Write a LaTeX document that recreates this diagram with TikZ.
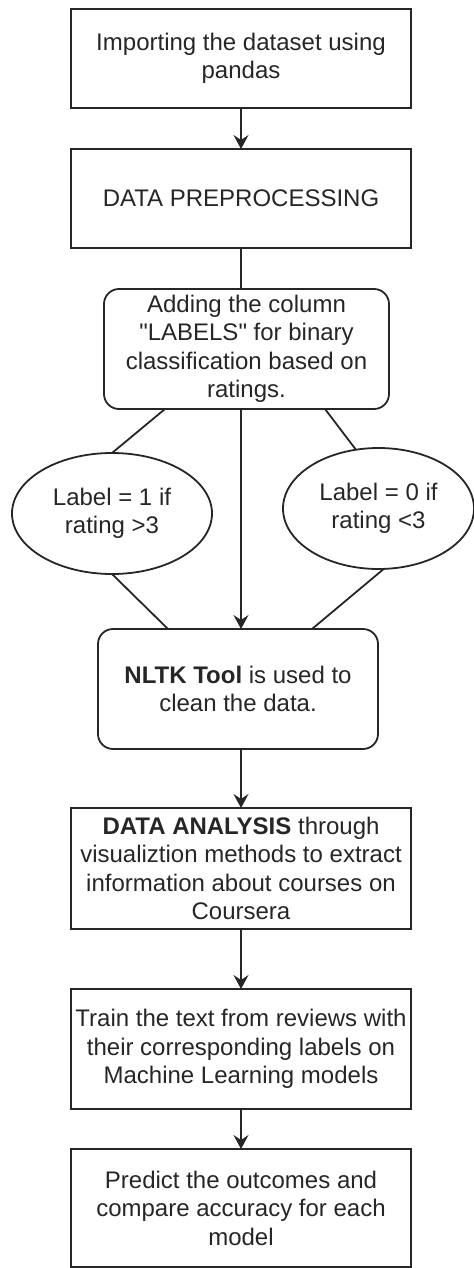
\documentclass[tikz,border=0pt]{standalone}
\usepackage{fontspec}
\setmainfont{Liberation Sans}[Ligatures=TeXOff]
\usetikzlibrary{shapes.geometric,arrows.meta,calc}
\begin{document}
\begin{tikzpicture}[x=0.5pt,y=-0.5pt,
  every node/.style={font=\fontsize{12}{14.25}\selectfont, text=black!85, align=center, inner sep=0pt, outer sep=0pt},
  rectbox/.style={draw=black!85, line width=0.9pt, minimum width=170pt},
  roundbox/.style={draw=black!85, line width=0.9pt, rounded corners=7.5pt},
  ellbox/.style={draw=black!85, line width=0.9pt, ellipse},
  flow/.style={draw=black!85, line width=0.9pt, -{Stealth[length=7pt,width=7.5pt,inset=2.5pt]}},
  plain/.style={draw=black!85, line width=0.9pt}
]
\useasboundingbox (0,0) rectangle (474,1268);

\node[rectbox, minimum height=49.5pt] (b1) at (241,58.5) {Importing the dataset using\\pandas};
\node[rectbox, minimum height=49.5pt] (b2) at (241,198.5) {DATA PREPROCESSING};
\node[roundbox, minimum width=142.5pt, minimum height=60pt] (b3) at (246.5,349)
  {Adding the column\\"LABELS" for binary\\classification based on\\ratings.};
\node[ellbox, minimum width=100pt, minimum height=60.5pt] (e1) at (112,513.5) {Label = 1 if\\rating {>}3};
\node[ellbox, minimum width=95.5pt, minimum height=60.5pt] (e2) at (378.5,508.5) {Label = 0 if\\rating {<}3};
\node[roundbox, minimum width=140pt, minimum height=60pt] (b4) at (238,689)
  {\textbf{NLTK Tool} is used to\\clean the data.};
\node[rectbox, minimum height=60.5pt] (b5) at (241,868.5)
  {\textbf{DATA ANALYSIS} through\\visualiztion methods to extract\\information about courses on\\Coursera};
\node[rectbox, minimum height=60pt] (b6) at (241,1049)
  {Train the text from reviews with\\their corresponding labels on\\Machine Learning models};
\node[rectbox, minimum height=59pt] (b7) at (241,1208)
  {Predict the outcomes and\\compare accuracy for each\\model};

\coordinate (b3l) at ($(b3.south)+(-81.5,0)$);
\coordinate (b3r) at ($(b3.south)+(78.5,0)$);
\coordinate (b4l) at ($(b4.north)+(-70,0)$);
\coordinate (b4r) at ($(b4.north)+(74,0)$);
\coordinate (b3c) at (b3.south -| b1.south);
\coordinate (b4c) at (b4.north -| b1.south);

\draw[flow] (b1) -- (b2);
\draw[plain] (b2) -- (b3.north -| b2.south);
\draw[plain] (b3l) -- (e1.north);
\draw[plain] (b3r) -- (e2.111);
\draw[flow] (b3c) -- (b4c);
\draw[plain] (e1.south) -- (b4l);
\draw[plain] (e2.-85) -- (b4r);
\draw[flow] (b4.south -| b5.north) -- (b5);
\draw[flow] (b5) -- (b6);
\draw[flow] (b6) -- (b7);
\end{tikzpicture}
\end{document}
